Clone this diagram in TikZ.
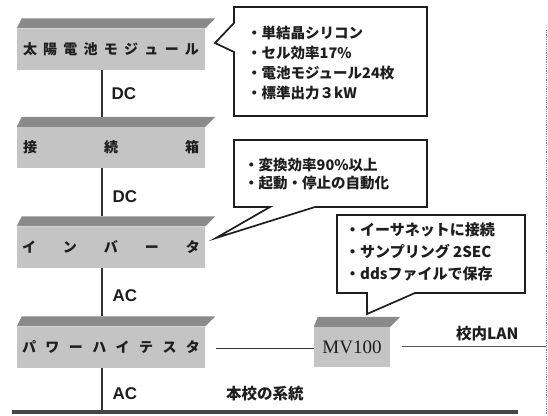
\documentclass[tikz,border=0pt]{standalone}
\usepackage{fontspec}
\newfontfamily\jp{Noto Sans CJK JP}
\newfontfamily\latf{Liberation Sans}
\newfontfamily\serf{Liberation Serif}
\definecolor{frontgray}{HTML}{C4C4C4}
\definecolor{topgray}{HTML}{8A8A8A}
\definecolor{ink}{HTML}{1E1E1E}
\definecolor{linegray}{HTML}{333333}
\newcommand\boxtop[3]{%
  \fill[topgray] (#1.north west) -- (#1.north east) -- ([xshift=#3pt,yshift=10pt]#1.north east) -- ([xshift=#2pt,yshift=10pt]#1.north west) -- cycle;}
\begin{document}
\begin{tikzpicture}[x=1pt,y=-1pt,
  boxfront/.style={fill=frontgray, minimum width=188pt, minimum height=41pt, inner sep=0pt, text=ink,
    font=\jp\bfseries\fontsize{14}{16}\selectfont},
  conn/.style={draw=linegray, line width=1.4pt},
  thinconn/.style={draw=linegray, line width=1pt},
  lanline/.style={draw=linegray!80, line width=1pt},
  callout/.style={draw=ink, line width=1.7pt, fill=white, line join=miter},
  ctext/.style={inner sep=0pt, anchor=west, align=left, text=ink,
    font=\jp\bfseries\fontsize{14.5}{19.7}\selectfont},
  lbl/.style={inner sep=0pt, text=ink, font=\latf\bfseries\fontsize{17}{19}\selectfont},
  jlbl/.style={inner sep=0pt, text=ink, font=\jp\bfseries\fontsize{15.5}{18}\selectfont}
]
\useasboundingbox (0,0) rectangle (548,415);
\fill[white] (0,0) rectangle (548,415);

% main boxes
\node[boxfront] (b1) at (111,49)    {\raisebox{-3pt}{\makebox[176pt]{太\hfill 陽\hfill 電\hfill 池\hfill モ\hfill ジ\hfill ュ\hfill ー\hfill ル}}};
\node[boxfront] (b2) at (111,147.5) {\raisebox{-3pt}{\makebox[176pt]{接\hfill 続\hfill 箱}}};
\node[boxfront] (b3) at (111,247)   {\raisebox{-4pt}{\makebox[178pt]{イ\hfill ン\hfill バ\hfill ー\hfill タ}}};
\node[boxfront] (b4) at (111,347)   {\raisebox{-2pt}{\makebox[178pt]{パ\hfill ワ\hfill ー\hfill ハ\hfill イ\hfill テ\hfill ス\hfill タ}}};
\node[boxfront, minimum width=76pt, minimum height=40pt,
  font=\serf\fontsize{19}{21}\selectfont, text=ink] (mv) at (352,347) {MV100};
\boxtop{b1}{5}{10}
\boxtop{b2}{5}{10}
\boxtop{b3}{5}{10}
\boxtop{b4}{5}{10}
\boxtop{mv}{4}{10}

% axis and free ends
\coordinate (ax) at (102,0);
\coordinate (busL) at (12,412);
\coordinate (busR) at (518,412);
\coordinate (edgeTop) at (546,30);
\coordinate (edgeBot) at (546,415);
\coordinate (lanEnd) at (546,346);

% vertical connectors
\draw[conn] (b1.south -| ax) -- ([yshift=10pt]b2.north -| ax);
\draw[conn] (b2.south -| ax) -- ([yshift=10pt]b3.north -| ax);
\draw[conn] (b3.south -| ax) -- ([yshift=10pt]b4.north -| ax);
\draw[conn] (b4.south -| ax) -- (busL -| ax);

% bus bar
\draw[draw=linegray!90, line width=4pt] (busL) -- (busR);

% horizontal links
\draw[thinconn] ([xshift=11pt,yshift=-1pt]b4.east) -- ([yshift=-1pt]mv.west);
\draw[lanline] ([xshift=12pt,yshift=1pt]mv.east) -- (lanEnd);
\draw[draw=gray, line width=0.8pt, densely dotted] (edgeTop) -- (edgeBot);

% labels
\node[lbl] (dc1) at (124,94) {DC};
\node[lbl] (dc2) at (125,197) {DC};
\node[lbl] (ac1) at (125,296) {AC};
\node[lbl] (ac2) at (125,394) {AC};
\node[jlbl, anchor=west] (grid) at (226,394) {本校の系統};
\node[jlbl, anchor=west] (lan) at (456,334) {校内LAN};

% callouts
\draw[callout] (234,7) -- (427,7) -- (427,116) -- (234,116) -- (234,52) -- (215,43) -- (234,23) -- cycle;
\node[ctext] (c1) at (247,63) {・単結晶シリコン\\・セル効率17\%\\・電池モジュール24枚\\・標準出力３kW};

\draw[callout] (234,140) -- (427,140) -- (427,207) -- (315,207) -- (216,238) -- (270,207) -- (234,207) -- cycle;
\node[ctext, font=\jp\bfseries\fontsize{14.5}{18.5}\selectfont] (c2) at (244,174) {・変換効率90\%以上\\・起動・停止の自動化};

\draw[callout] (337,215) -- (525,215) -- (525,293) -- (415,293) -- (367,314) -- (367,293) -- (337,293) -- cycle;
\node[ctext, font=\jp\bfseries\fontsize{15}{22}\selectfont] (c3) at (345,252) {・イーサネットに接続\\・サンプリング 2SEC\\・ddsファイルで保存};
\end{tikzpicture}
\end{document}
